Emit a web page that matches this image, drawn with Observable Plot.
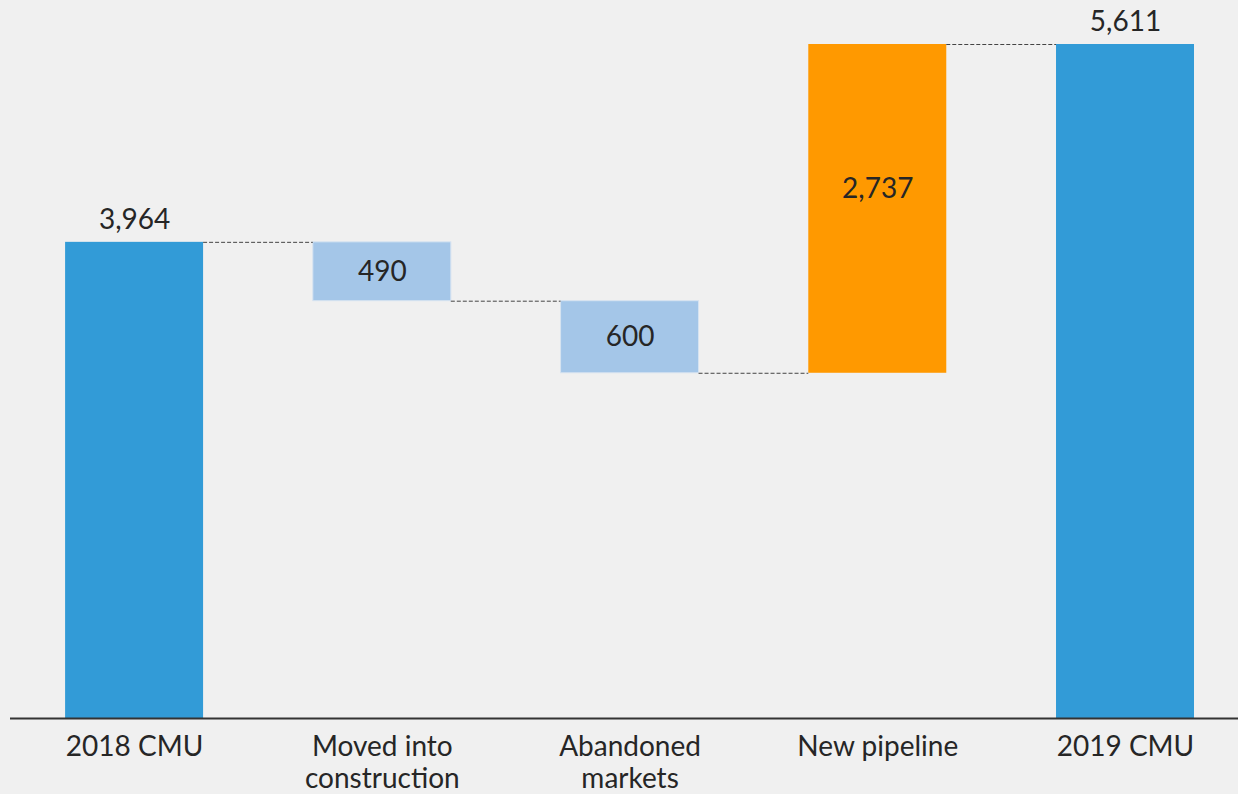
<!DOCTYPE html>
<html>
<head>
<meta charset="utf-8">
<script src="https://cdn.jsdelivr.net/npm/d3@7"></script>
<script src="https://cdn.jsdelivr.net/npm/@observablehq/plot@0.6"></script>
<style>
  html, body { margin: 0; padding: 0; background: #f0f0f0; }
  #chart svg { display: block; }
</style>
</head>
<body>
<div id="chart"></div>
<script>
const categories = ["2018 CMU", "Moved into\nconstruction", "Abandoned\nmarkets", "New pipeline", "2019 CMU"];
const values = [3964, -490, -600, 2737, 5611];
const kinds = ["total", "decrease", "decrease", "increase", "total"];
const colors = { total: "#329bd7", decrease: "#a4c6e8", increase: "#ff9900" };

// Build the waterfall table
let running = 0;
const data = categories.map((c, i) => {
  const v = values[i];
  let y1, y2;
  if (kinds[i] === "total") { y1 = 0; y2 = v; running = v; }
  else { y1 = running; y2 = running + v; running = y2; }
  return { cat: c, value: v, kind: kinds[i], y1, y2, level: running };
});
const connectors = data.slice(0, -1).map((d, i) => ({ from: d.cat, to: data[i + 1].cat, level: d.level }));

const W = 1238, H = 794, mL = 10, mR = 0, pInner = 0.443, pOuter = 0.2;
const step = (W - mL - mR) / (categories.length - pInner + 2 * pOuter);
const bw = step * (1 - pInner);
const font = "Lato, 'Open Sans', sans-serif";

const chart = Plot.plot({
  width: W,
  height: H,
  marginLeft: mL,
  marginRight: mR,
  marginTop: 44,
  marginBottom: 76,
  style: { background: "#f0f0f0", fontFamily: font, color: "#262626" },
  x: { domain: categories, paddingInner: pInner, paddingOuter: pOuter, align: 0.556, round: false, axis: null },
  y: { domain: [0, 5611], axis: null },
  marks: [
    Plot.barY(data, { x: "cat", y1: "y1", y2: "y2", fill: d => colors[d.kind],
      stroke: d => d.kind === "decrease" ? "#d6e3f1" : "none", strokeWidth: 1 }),
    Plot.ruleY(connectors, { y: "level", x1: "from", x2: "to", insetLeft: bw, insetRight: bw,
      stroke: "#444", strokeWidth: 1, strokeDasharray: "4,2" }),
    Plot.ruleY([0], { stroke: "#333", strokeWidth: 2 }),
    Plot.text(data.filter(d => d.kind === "total"), { x: "cat", y: "y2", text: d => d3.format(",")(d.value),
      lineAnchor: "middle", dy: -22, fontSize: 28, fill: "#262626" }),
    Plot.text(data.filter(d => d.kind === "decrease"), { x: "cat", y: d => (d.y1 + d.y2) / 2, text: d => d3.format(",")(Math.abs(d.value)),
      lineAnchor: "middle", fontSize: 28, fill: "#262626" }),
    Plot.text(data.filter(d => d.kind === "increase"), { x: "cat", y: d => (d.y1 + d.y2) / 2, text: d => d3.format(",")(Math.abs(d.value)),
      lineAnchor: "middle", dy: -20, fontSize: 28, fill: "#262626" }),
    Plot.text(categories, { x: d => d, text: d => d, frameAnchor: "bottom", lineAnchor: "top", dy: 15,
      lineHeight: 1.143, fontSize: 28, fill: "#262626" })
  ]
});
document.getElementById("chart").append(chart);
</script>
</body>
</html>
